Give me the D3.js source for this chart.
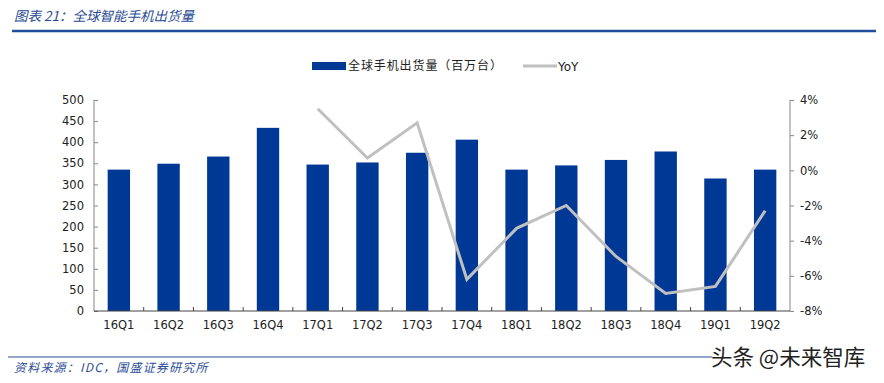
<!DOCTYPE html>
<html><head><meta charset="utf-8">
<script src="https://cdn.jsdelivr.net/npm/d3@7"></script>
<style>body{margin:0;background:#fff}svg{display:block}</style>
</head><body><svg id="c" width="884" height="383"></svg>
<script>
const categories=["16Q1","16Q2","16Q3","16Q4","17Q1","17Q2","17Q3","17Q4","18Q1","18Q2","18Q3","18Q4","19Q1","19Q2"];
const shipments=[335,349,366,434,347,352,375,406,335,345,358,378,314,335];
const yoy=[null,null,null,null,3.5,0.7,2.7,-6.2,-3.3,-2.0,-4.9,-7.0,-6.6,-2.3];
const leftTicks=[0,50,100,150,200,250,300,350,400,450,500];
const rightTicks=[-8,-6,-4,-2,0,2,4];
const titleText="图表 21：全球智能手机出货量";
const sourceText="资料来源：IDC，国盛证券研究所";
const legendLabels=["全球手机出货量（百万台）","YoY"];

const svg=d3.select("#c");
const L=94,R=790,T=100,B=311;
const x=d3.scaleBand().domain(categories).range([L,R]).paddingInner(0.55).paddingOuter(0.275);
const xb=d3.scaleBand().domain(categories).range([L,R]);
const y=d3.scaleLinear().domain([0,500]).range([B,T]);
const y2=d3.scaleLinear().domain([-8,4]).range([B,T]);
const font="DejaVu Sans, Verdana, sans-serif";
const cjk="'Noto Sans CJK SC', sans-serif";

// header
svg.append("text").attr("x",14).attr("y",21).text(titleText)
 .attr("font-family",cjk).attr("font-size",13.5).attr("font-style","italic").attr("fill","#2b4c95");
svg.append("line").attr("x1",12).attr("x2",876).attr("y1",31).attr("y2",31).attr("stroke","#1f4e9c").attr("stroke-width",2.5);

// bars
svg.append("g").selectAll("rect").data(shipments).join("rect")
 .attr("x",(d,i)=>x(categories[i])).attr("width",x.bandwidth())
 .attr("y",d=>y(d)).attr("height",d=>B-y(d)).attr("fill","#003896");

// axes
const gl=svg.append("g").attr("transform",`translate(${L},0)`)
 .call(d3.axisLeft(y).tickValues(leftTicks).tickSize(-4).tickPadding(10));
const gr=svg.append("g").attr("transform",`translate(${R},0)`)
 .call(d3.axisRight(y2).tickValues(rightTicks).tickSize(4).tickPadding(6).tickFormat(d=>d+"%"));
const gb=svg.append("g").attr("transform",`translate(0,${B})`)
 .call(d3.axisBottom(xb).tickSize(0).tickPadding(10));
gb.append("g").selectAll("line").data(categories.slice(1)).join("line")
 .attr("x1",d=>xb(d)).attr("x2",d=>xb(d)).attr("y1",0).attr("y2",-4).attr("stroke","#444");
[gl,gr,gb].forEach(g=>{
 g.selectAll("text").attr("font-family",font).attr("font-size",11.5).attr("fill","#222");
 g.selectAll(".tick line").attr("stroke","#888");
 g.select(".domain").attr("stroke","#888");
});
gb.select(".domain").attr("stroke","#444").attr("d",`M${L},0H${R}`);
gl.select(".domain").attr("d",`M0,${T}V${B}`);
gr.select(".domain").attr("d",`M0,${T}V${B}`);

// line
const line=d3.line().defined(d=>d!==null).x((d,i)=>xb(categories[i])+xb.bandwidth()/2).y(d=>y2(d));
svg.append("path").datum(yoy).attr("d",line).attr("fill","none").attr("stroke","#c0c0c0").attr("stroke-width",3);

// legend
svg.append("rect").attr("x",312).attr("y",62).attr("width",34).attr("height",8).attr("fill","#003896");
svg.append("text").attr("x",348).attr("y",70).text(legendLabels[0]).attr("font-family",cjk).attr("font-size",12)
 .attr("letter-spacing",0.9).attr("fill","#222");
svg.append("line").attr("x1",523).attr("x2",557).attr("y1",66).attr("y2",66).attr("stroke","#c0c0c0").attr("stroke-width",3);
svg.append("text").attr("x",558).attr("y",71).text(legendLabels[1]).attr("font-family",font).attr("font-size",12).attr("fill","#222");

// footer
svg.append("line").attr("x1",8).attr("x2",712).attr("y1",357).attr("y2",357).attr("stroke","#2b4c95").attr("stroke-width",1.2);
svg.append("text").attr("x",14).attr("y",372).text(sourceText)
 .attr("font-family",cjk).attr("font-size",12).attr("letter-spacing",1.2).attr("font-style","italic").attr("fill","#2b4c95");
svg.append("text").attr("x",711).attr("y",365).text("头条 @未来智库")
 .attr("font-family",cjk).attr("font-size",21.5).attr("fill","#222");
</script></body></html>
